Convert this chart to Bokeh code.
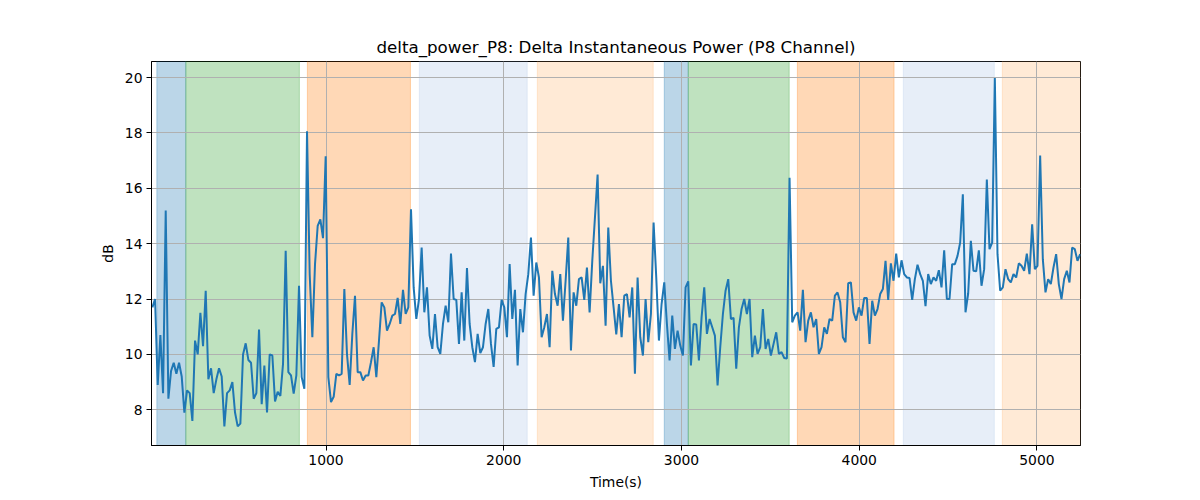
from bokeh.plotting import figure
from bokeh.models import FixedTicker, ColumnDataSource, Range1d
from bokeh.embed import file_html
from bokeh.resources import INLINE

# sampling of the signal (seconds)
T0 = 23
STEP = 15

# delta power, P8 channel (dB)
db = [
    11.7, 12.0, 8.9, 10.7, 8.6, 15.2, 8.4, 9.4, 9.7, 9.3,
    9.7, 9.2, 7.9, 8.7, 8.6, 7.6, 10.5, 10.0, 11.5, 10.3,
    12.3, 9.1, 9.5, 8.6, 9.1, 9.5, 9.2, 7.4, 8.6, 8.7,
    9.0, 7.9, 7.4, 7.5, 10.0, 10.4, 9.8, 9.7, 8.4, 8.6,
    10.9, 8.2, 9.6, 7.9, 10.0,
    9.96, 8.3, 8.65, 8.5, 9.66, 13.74, 9.36, 9.24, 8.58, 9.24,
    12.48, 9.18, 8.76, 18.06, 12.9, 10.62, 13.26, 14.64, 14.88, 14.2,
    17.16, 9.18, 8.28, 8.47, 9.3, 9.24, 9.3, 12.36, 10.0, 8.9,
    10.74, 12.12, 9.36, 9.36, 9.06, 9.24, 9.24, 9.72, 10.26, 9.18,
    10.5, 11.88, 11.7, 10.86, 11.1,
    11.4, 11.46, 12.04, 11.1, 12.33, 11.46, 11.7, 15.24, 12.42, 11.28,
    12.0, 13.86, 11.52, 12.42, 10.68, 10.2, 11.46, 10.26, 10.02, 11.1,
    11.76, 11.16, 13.64, 12.0, 11.97, 10.38, 12.24, 10.5, 13.12, 11.1,
    10.26, 9.72, 10.74, 10.05, 10.26, 11.1, 11.64, 10.38, 9.55, 10.92,
    10.98, 11.97, 11.7, 10.62, 13.26,
    11.28, 12.33, 9.6, 11.64, 10.8, 12.18, 12.9, 14.22, 12.12, 13.32,
    12.78, 10.62, 10.98, 11.46, 10.26, 13.02, 12.18, 11.76, 12.9, 11.22,
    12.66, 14.22, 10.14, 12.24, 11.76, 12.72, 12.78, 11.97, 13.14, 11.52,
    13.38, 14.94, 16.5, 12.57, 13.2, 11.04, 14.58, 12.66, 11.7, 10.72,
    11.82, 10.62, 12.12, 12.18, 11.34,
    12.42, 9.3, 12.78, 10.62, 9.96, 12.0, 10.44, 11.46, 14.76, 12.78,
    10.5, 11.82, 12.6, 11.1, 9.78, 11.4, 10.2, 10.86, 10.32, 9.96,
    12.42, 12.64, 9.6, 11.1, 11.08, 9.78, 11.34, 12.42, 10.74, 11.28,
    10.98, 10.68, 8.88, 10.26, 11.46, 12.3, 12.72, 11.28, 11.32, 9.48,
    10.98, 11.64, 12.0, 11.46, 12.0,
    9.9, 10.68, 10.02, 10.26, 11.64, 10.2, 10.56, 9.96, 10.38, 10.8,
    10.02, 10.08, 9.87, 9.85, 16.38, 11.16, 11.4, 11.52, 10.86, 12.33,
    10.44, 11.22, 11.52, 10.98, 11.28, 10.02, 10.26, 10.98, 10.74, 11.28,
    11.22, 12.12, 12.24, 11.88, 10.62, 10.44, 12.57, 12.6, 11.52, 11.22,
    11.7, 11.4, 12.04, 12.04, 10.38,
    11.94, 11.4, 11.64, 12.18, 12.36, 13.38, 11.97, 13.29, 12.66, 13.64,
    12.78, 13.4, 12.9, 12.78, 12.76, 11.97, 12.72, 13.24, 12.9, 12.66,
    11.74, 12.9, 12.54, 12.78, 12.66, 13.04, 12.42, 13.76, 12.0, 12.0,
    13.26, 13.26, 13.56, 14.04, 15.78, 11.52, 12.2,
    14.1, 13.02, 13.0, 13.76, 12.48, 13.08, 16.32, 13.8, 14.04, 19.98,
    13.62, 12.3, 12.42, 13.08, 12.72, 12.6, 12.9, 12.78, 13.29, 13.2,
    13.02, 13.64, 12.9, 14.7, 13.08, 13.2, 17.18, 13.44, 12.24, 12.72,
    12.54, 13.14, 13.62, 12.54, 12.0, 12.72, 13.02, 12.6, 13.86, 13.8,
    13.38, 13.62,
]
time_s = [T0 + STEP * i for i in range(len(db))]

# shaded stages
band_start = [48, 211, 895, 1525, 2189, 2903, 3038, 3652, 4248, 4805]
band_end = [211, 850, 1475, 2132, 2841, 3038, 3606, 4196, 4760, 5300]
band_kind = ["a", "b", "c", "d", "e", "a", "b", "c", "d", "e"]

kind_color = {
    "a": "#1f77b4",
    "b": "#2ca02c",
    "c": "#ff7f0e",
    "d": "#aec7e8",
    "e": "#ffbb78",
}

x_ticks = [1000, 2000, 3000, 4000, 5000]
y_ticks = [8, 10, 12, 14, 16, 18, 20]

FONT = "DejaVu Sans"

p = figure(width=1184, height=492, output_backend="svg", toolbar_location=None,
           title="delta_power_P8: Delta Instantaneous Power (P8 Channel)",
           x_axis_label="Time(s)", y_axis_label="dB",
           x_range=Range1d(18, 5245), y_range=Range1d(6.71, 20.58),
           min_border_left=151, min_border_right=104,
           min_border_top=61, min_border_bottom=47)

bands = ColumnDataSource(dict(
    left=band_start, right=band_end,
    color=[kind_color[k] for k in band_kind],
))
p.quad(left="left", right="right", bottom=-100, top=100, source=bands,
       fill_color="color", fill_alpha=0.3, line_color="color", line_alpha=0.3,
       line_width=1, level="image")

p.line(time_s, db, line_color="#1f77b4", line_width=2)

p.title.align = "center"
p.title.text_font = FONT
p.title.text_font_size = "16.7px"
p.title.text_font_style = "normal"
p.title.text_color = "black"

p.xaxis.ticker = FixedTicker(ticks=x_ticks)
p.yaxis.ticker = FixedTicker(ticks=y_ticks)
for ax in (p.xaxis, p.yaxis):
    ax.major_label_text_font = FONT
    ax.major_label_text_font_size = "13.9px"
    ax.major_label_text_color = "black"
    ax.axis_label_text_font = FONT
    ax.axis_label_text_font_size = "13.9px"
    ax.axis_label_text_font_style = "normal"
    ax.axis_label_text_color = "black"
    ax.axis_line_color = "black"
    ax.major_tick_line_color = "black"
    ax.major_tick_out = 5
    ax.major_tick_in = 0
    ax.minor_tick_line_color = None
    ax.major_label_standoff = 4
    ax.axis_label_standoff = 6

p.grid.grid_line_color = "#b0b0b0"
p.grid.grid_line_width = 1
p.outline_line_color = "black"
p.outline_line_width = 1
p.background_fill_color = "white"

open("out.html", "w").write(file_html(p, INLINE))
